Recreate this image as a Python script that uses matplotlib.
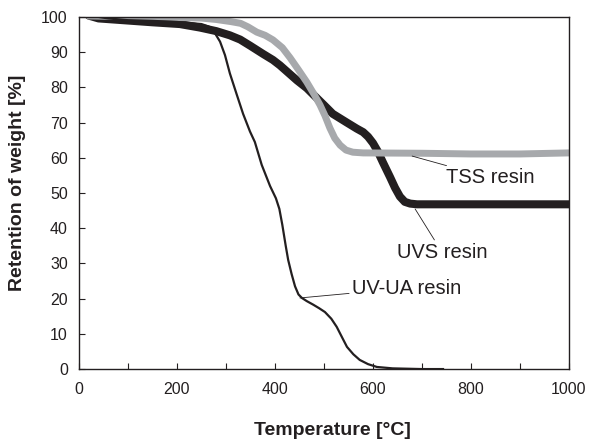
import matplotlib.pyplot as plt
from matplotlib.ticker import MultipleLocator

plt.rcParams['font.family'] = ['Liberation Sans', 'DejaVu Sans']

# UV-UA resin (thin black)
uvua_t = [18, 60, 100, 150, 200, 250, 265, 275, 288, 298, 308, 322, 335, 349, 359, 373,
          390, 402, 409, 415, 422, 427, 434, 441, 448, 455, 465, 478, 490, 502, 515, 526, 537,
          547, 560, 573, 590, 608, 640, 700, 743]
uvua_w = [100.5, 99.6, 99.1, 98.9, 98.6, 98.0, 97.3, 96.0, 93.0, 89.2, 84.0, 78.0, 72.5, 67.5, 64.5, 58.0,
          52.0, 48.5, 45.5, 41.0, 35.0, 31.0, 27.0, 23.5, 21.2, 20.2, 19.3, 18.3, 17.3, 16.2, 14.3, 12.0, 9.0,
          6.3, 4.2, 2.6, 1.4, 0.6, 0.2, 0.0, 0.0]

# UVS resin (thick black)
uvs_t = [20, 40, 100, 150, 206, 247, 280, 308, 329, 350, 376, 396, 410, 445, 465, 478,
         500, 518, 547, 567, 580, 590, 600, 610, 620, 635, 645, 655, 665, 676, 690, 800, 900, 1000]
uvs_w = [100.4, 99.6, 99.0, 98.5, 98.0, 97.0, 96.0, 94.8, 93.6, 91.8, 89.5, 87.8, 86.3, 82.0, 79.8, 78.0,
         75.0, 72.5, 70.0, 68.3, 67.3, 66.0, 64.2, 61.8, 58.8, 54.5, 51.5, 49.0, 47.5, 47.0, 46.8, 46.8, 46.8, 46.8]

# TSS resin (thick grey)
tss_t = [20, 60, 150, 250, 280, 310, 330, 345, 363, 380, 396, 415, 431, 448, 465, 480,
         492, 502, 512, 522, 533, 545, 559, 580, 700, 800, 900, 1000]
tss_w = [100.3, 100.2, 100.0, 99.7, 99.3, 98.7, 98.2, 97.2, 95.7, 94.8, 93.5, 91.3, 88.4, 85.0, 81.5, 78.0,
         75.0, 72.0, 68.5, 65.6, 63.6, 62.2, 61.6, 61.4, 61.3, 61.1, 61.1, 61.4]

fig = plt.figure(figsize=(5.89, 4.42), dpi=100)
ax = fig.add_axes([0.134, 0.165, 0.832, 0.7965])

ax.plot(uvs_t, uvs_w, color='#231f20', lw=5.8, solid_capstyle='round', solid_joinstyle='round')
ax.plot(tss_t, tss_w, color='#a7a9ac', lw=5.0, solid_capstyle='round', solid_joinstyle='round')
ax.plot(uvua_t, uvua_w, color='#231f20', lw=1.6, solid_joinstyle='round')

ax.set_xlim(0, 1000)
ax.set_ylim(0, 100)
ax.xaxis.set_major_locator(MultipleLocator(200))
ax.xaxis.set_minor_locator(MultipleLocator(100))
ax.yaxis.set_major_locator(MultipleLocator(10))
ax.tick_params(which='both', direction='in', length=4, width=0.8, labelsize=11.5,
               colors='#231f20', top=False, right=False)
ax.tick_params(axis='x', pad=9)
ax.tick_params(axis='y', pad=8)
for s in ax.spines.values():
    s.set_linewidth(1.0)
    s.set_color('#231f20')

ax.set_xlabel('Temperature [°C]', fontsize=14, fontweight='bold', color='#231f20')
ax.set_ylabel('Retention of weight [%]', fontsize=14, fontweight='bold', color='#231f20')
ax.xaxis.set_label_coords(0.517, -0.151)
ax.yaxis.set_label_coords(-0.108, 0.53)

ann = dict(fontsize=14.5, color='#231f20', va='center')
lead = dict(arrowstyle='-', color='#231f20', lw=0.6, shrinkA=0, shrinkB=0)
ax.annotate('TSS resin', xy=(680, 60.5), xytext=(750, 54.3), ha='left',
            arrowprops=lead, **ann)
ax.annotate('UVS resin', xy=(686, 45.5), xytext=(741, 33.2), ha='center',
            arrowprops=lead, **ann)
ax.annotate('UV-UA resin', xy=(451, 20.2), xytext=(557, 23.0), ha='left',
            arrowprops=lead, **ann)

fig.savefig('out.png', dpi=100)
